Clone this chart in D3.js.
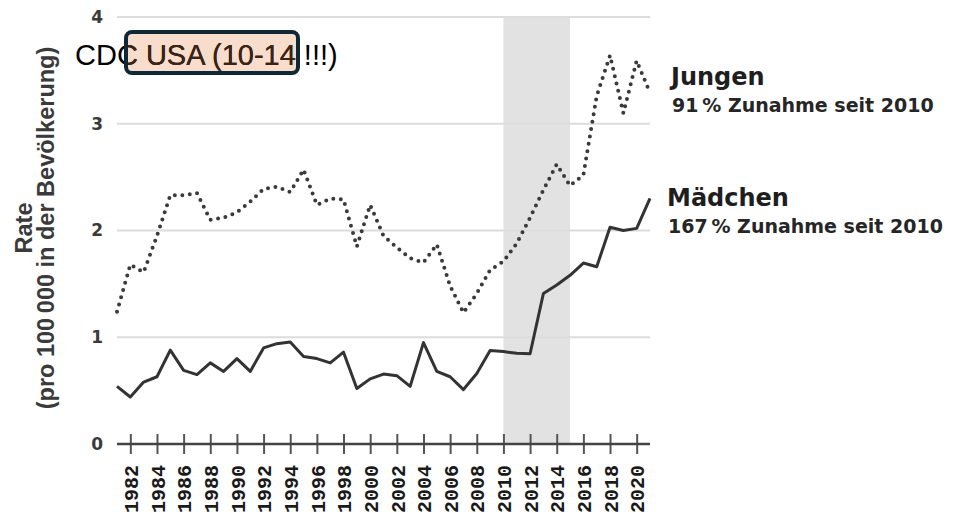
<!DOCTYPE html>
<html>
<head>
<meta charset="utf-8">
<script src="https://cdn.jsdelivr.net/npm/d3@7"></script>
<style>
  body { margin: 0; background: #fff; }
  svg { display: block; }
</style>
</head>
<body>
<div id="chart"></div>
<script>
// Rates per 100 000, age 10-14, USA (CDC)
const years = d3.range(1981, 2022);
const boys = [1.24, 1.68, 1.61, 1.95, 2.33, 2.33, 2.35, 2.10, 2.12, 2.17,
              2.27, 2.39, 2.41, 2.36, 2.57, 2.24, 2.30, 2.29, 1.85, 2.24,
              1.95, 1.84, 1.74, 1.70, 1.87, 1.48, 1.23, 1.41, 1.63, 1.71,
              1.88, 2.12, 2.38, 2.62, 2.42, 2.52, 3.26, 3.64, 3.10, 3.59, 3.29];
const girls = [0.54, 0.44, 0.58, 0.63, 0.88, 0.69, 0.65, 0.76, 0.68, 0.80,
               0.68, 0.90, 0.94, 0.955, 0.82, 0.80, 0.76, 0.86, 0.52, 0.61,
               0.655, 0.64, 0.54, 0.95, 0.68, 0.63, 0.51, 0.66, 0.875, 0.866,
               0.85, 0.845, 1.41, 1.49, 1.58, 1.695, 1.66, 2.03, 2.00, 2.02, 2.30];
const yTicks = [0, 1, 2, 3, 4];
const xTicks = d3.range(1982, 2021, 2);
const shadeRange = [2010, 2015];

const width = 956, height = 517;
const svg = d3.select("#chart").append("svg")
    .attr("width", width)
    .attr("height", height);

const x = d3.scaleLinear().domain([1981, 2021]).range([117, 650]);
const y = d3.scaleLinear().domain([0, 4]).range([444, 17]);

// shaded period
svg.append("rect")
    .attr("x", x(shadeRange[0]))
    .attr("y", y(4))
    .attr("width", x(shadeRange[1]) - x(shadeRange[0]))
    .attr("height", y(0) - y(4))
    .attr("fill", "#e2e2e2");

// gridlines
svg.append("g")
    .selectAll("line")
    .data(yTicks.filter(d => d > 0))
    .join("line")
    .attr("x1", x(1981))
    .attr("x2", x(2021))
    .attr("y1", d => y(d))
    .attr("y2", d => y(d))
    .attr("stroke", "#dcdcdc")
    .attr("stroke-width", 2);

// y tick labels
svg.append("g")
    .selectAll("text")
    .data(yTicks)
    .join("text")
    .attr("x", 103)
    .attr("y", d => y(d))
    .attr("dy", "0.35em")
    .attr("text-anchor", "end")
    .attr("font-family", "'DejaVu Sans', sans-serif")
    .attr("font-weight", 700)
    .attr("font-size", 17)
    .attr("fill", "#3a3a3a")
    .text(d => d);

// y axis title
const yTitle = svg.append("text")
    .attr("transform", "translate(0,228) rotate(-90)")
    .attr("text-anchor", "middle")
    .attr("font-family", "'Liberation Sans', Arial, sans-serif")
    .attr("font-weight", 700)
    .attr("font-size", 23.5)
    .attr("fill", "#3a3a3a");
yTitle.append("tspan").attr("x", 0).attr("y", 32).text("Rate");
yTitle.append("tspan").attr("x", 0).attr("y", 54).text("(pro 100\u2009000 in der Bevölkerung)");

// x axis
const xAxis = svg.append("g")
    .attr("transform", `translate(0,${y(0)})`)
    .call(d3.axisBottom(x).tickValues(xTicks).tickFormat(d3.format("d")).tickSize(0).tickPadding(0));
xAxis.select(".domain").remove();
xAxis.append("line")
    .attr("x1", x(1981))
    .attr("x2", x(2021))
    .attr("stroke", "#444")
    .attr("stroke-width", 2.5);
xAxis.selectAll(".tick").append("line")
    .attr("y1", -10)
    .attr("y2", 10)
    .attr("stroke", "#555")
    .attr("stroke-width", 2);
xAxis.selectAll(".tick text")
    .attr("transform", "rotate(-90)")
    .attr("x", -21)
    .attr("y", 0)
    .attr("dy", "0.36em")
    .attr("text-anchor", "end")
    .attr("font-family", "'Liberation Mono', monospace")
    .attr("font-weight", 700)
    .attr("font-size", 20)
    .attr("fill", "#1a1a1a");

// lines
const line = d3.line()
    .x((d, i) => x(years[i]))
    .y(d => y(d));

svg.append("path")
    .datum(girls)
    .attr("d", line)
    .attr("fill", "none")
    .attr("stroke", "#333")
    .attr("stroke-width", 3)
    .attr("stroke-linejoin", "round");

svg.append("path")
    .datum(boys)
    .attr("d", line)
    .attr("fill", "none")
    .attr("stroke", "#3a3a3a")
    .attr("stroke-width", 4)
    .attr("stroke-linecap", "round")
    .attr("stroke-dasharray", "0 7.5");

// series labels
const labels = [
    { name: "Jungen", note: "91\u2009% Zunahme seit 2010", x: 671, y: 85 },
    { name: "Mädchen", note: "167\u2009% Zunahme seit 2010", x: 667, y: 206 }
];
labels.forEach(l => {
    svg.append("text")
        .attr("x", l.x)
        .attr("y", l.y)
        .attr("font-family", "'DejaVu Sans', sans-serif")
        .attr("font-weight", 700)
        .attr("font-size", 24)
        .attr("fill", "#1e1e1e")
        .text(l.name);
    svg.append("text")
        .attr("x", l.x + 1)
        .attr("y", l.y + 27)
        .attr("font-family", "'DejaVu Sans', sans-serif")
        .attr("font-weight", 700)
        .attr("font-size", 19)
        .attr("fill", "#262626")
        .text(l.note);
});

// annotation title with highlight box
const title = "CDC USA (10-14 !!!)";
const box = { x: 126, y: 32, w: 172, h: 41 };
const titleFont = "'Liberation Sans', Arial, sans-serif";

svg.append("rect")
    .attr("x", box.x).attr("y", box.y)
    .attr("width", box.w).attr("height", box.h)
    .attr("rx", 6)
    .attr("fill", "#f8dccc");

svg.append("text")
    .attr("x", 75)
    .attr("y", 65)
    .attr("font-family", titleFont)
    .attr("font-size", 29)
    .attr("fill", "#000")
    .text(title);

svg.append("clipPath").attr("id", "boxclip")
    .append("rect")
    .attr("x", box.x).attr("y", box.y)
    .attr("width", box.w).attr("height", box.h);

svg.append("text")
    .attr("clip-path", "url(#boxclip)")
    .attr("x", 75)
    .attr("y", 65)
    .attr("font-family", titleFont)
    .attr("font-size", 29)
    .attr("fill", "#3b2414")
    .text(title);

svg.append("rect")
    .attr("x", box.x).attr("y", box.y)
    .attr("width", box.w).attr("height", box.h)
    .attr("rx", 6)
    .attr("fill", "none")
    .attr("stroke", "#0f2836")
    .attr("stroke-width", 4);
</script>
</body>
</html>
